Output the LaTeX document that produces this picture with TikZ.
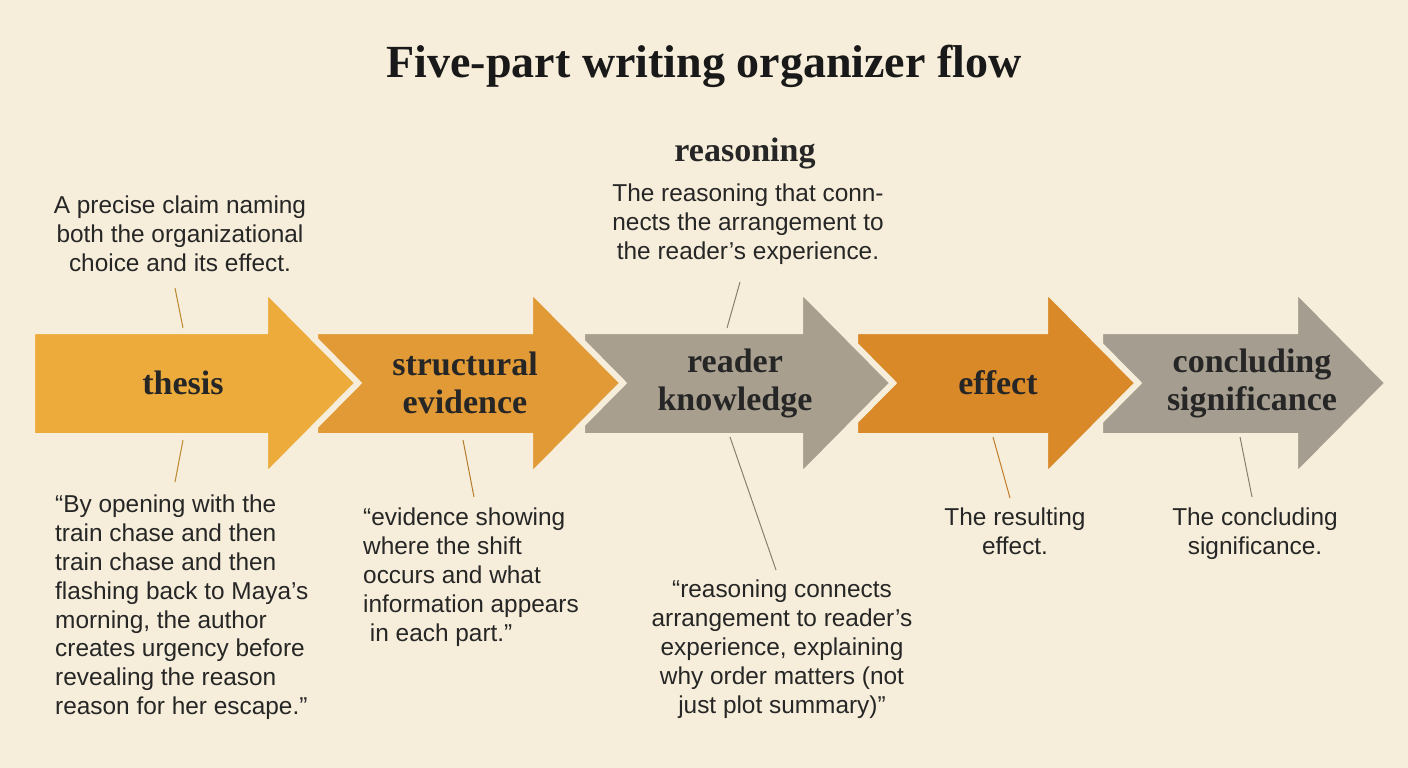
\documentclass[tikz,border=0pt]{standalone}
\usepackage{fontspec}
\setmainfont{Liberation Serif}
\setsansfont{Liberation Sans}
\begin{document}
\begin{tikzpicture}[x=1pt,y=-1pt,
  body/.style={font=\sffamily\fontsize{24.4}{28.8}\selectfont,text=black!85,inner sep=0pt},
  lab/.style={font=\rmfamily\bfseries\fontsize{34}{38}\selectfont,align=center,text=black!85},
  lead/.style={line width=1pt},
  arr/.style={draw=bg,line width=6pt,line join=miter}]
\definecolor{bg}{HTML}{F6EEDA}
\definecolor{cA}{HTML}{ECAB3B}
\definecolor{cB}{HTML}{E29A37}
\definecolor{cG}{HTML}{A89F8F}
\definecolor{cD}{HTML}{DA8929}
\definecolor{cE}{HTML}{A59D8F}
\fill[bg] (0,0) rectangle (1408,768);
\useasboundingbox (0,0) rectangle (1408,768);
\node[font=\rmfamily\bfseries\fontsize{46}{50}\selectfont,text=black!90] (title) at (704,66) {Five-part writing organizer flow};
% arrows, right to left
\def\arrowshape#1#2#3{\filldraw[arr,fill=#3] (#1,331) -- (#2,331) -- (#2,289) -- ({#2+93},383) -- (#2,477) -- (#2,436) -- (#1,436) -- cycle;}
\arrowshape{1100}{1295}{cE}
\arrowshape{855}{1045}{cD}
\arrowshape{582}{800}{cG}
\arrowshape{315}{530}{cB}
\arrowshape{32}{265}{cA}
\node[lab] (a1) at (183,383) {thesis};
\node[lab] (a2) at (465,383) {structural\\evidence};
\node[lab] (a3) at (735,383) {reader\\knowledge};
\node[lab] (a4) at (998,383) {effect};
\node[lab] (a5) at (1252,383) {concluding\\significance};
% texts
\node[body,align=center,anchor=north] (t1) at (180,196) {A precise claim naming\\both the organizational\\choice and its effect.};
\node[body,align=left,anchor=north west] (b1) at (55,495) {“By opening with the\\train chase and then\\train chase and then\\flashing back to Maya’s\\morning, the author\\creates urgency before\\revealing the reason\\reason for her escape.”};
\node[body,align=left,anchor=north west] (b2) at (363,508) {“evidence showing\\where the shift\\occurs and what\\information appears\\\ in each part.”};
\node[font=\rmfamily\bfseries\fontsize{34}{36}\selectfont,text=black!85] (rs) at (745,153) {reasoning};
\node[body,align=center,anchor=north] (t3) at (748,184) {The reasoning that conn-\\nects the arrangement to\\the reader’s experience.};
\node[body,align=center,anchor=north] (b3) at (782,580) {“reasoning connects\\arrangement to reader’s\\experience, explaining\\why order matters (not\\just plot summary)”};
\node[body,align=center,anchor=north] (b4) at (1015,508) {The resulting\\effect.};
\node[body,align=center,anchor=north] (b5) at (1255,508) {The concluding\\significance.};
% leaders
\draw[lead,color=cA!80!black] (175,288) -- (183,328);
\draw[lead,color=cA!80!black] (183,440) -- (175,482);
\draw[lead,color=cB!80!black] (463,440) -- (474,497);
\draw[lead,color=cG!80!black] (740,282) -- (727,328);
\draw[lead,color=cG!80!black] (730,437) -- (776,570);
\draw[lead,color=cD!90!black] (993,437) -- (1010,498);
\draw[lead,color=cE!80!black] (1240,437) -- (1252,497);
\end{tikzpicture}
\end{document}
